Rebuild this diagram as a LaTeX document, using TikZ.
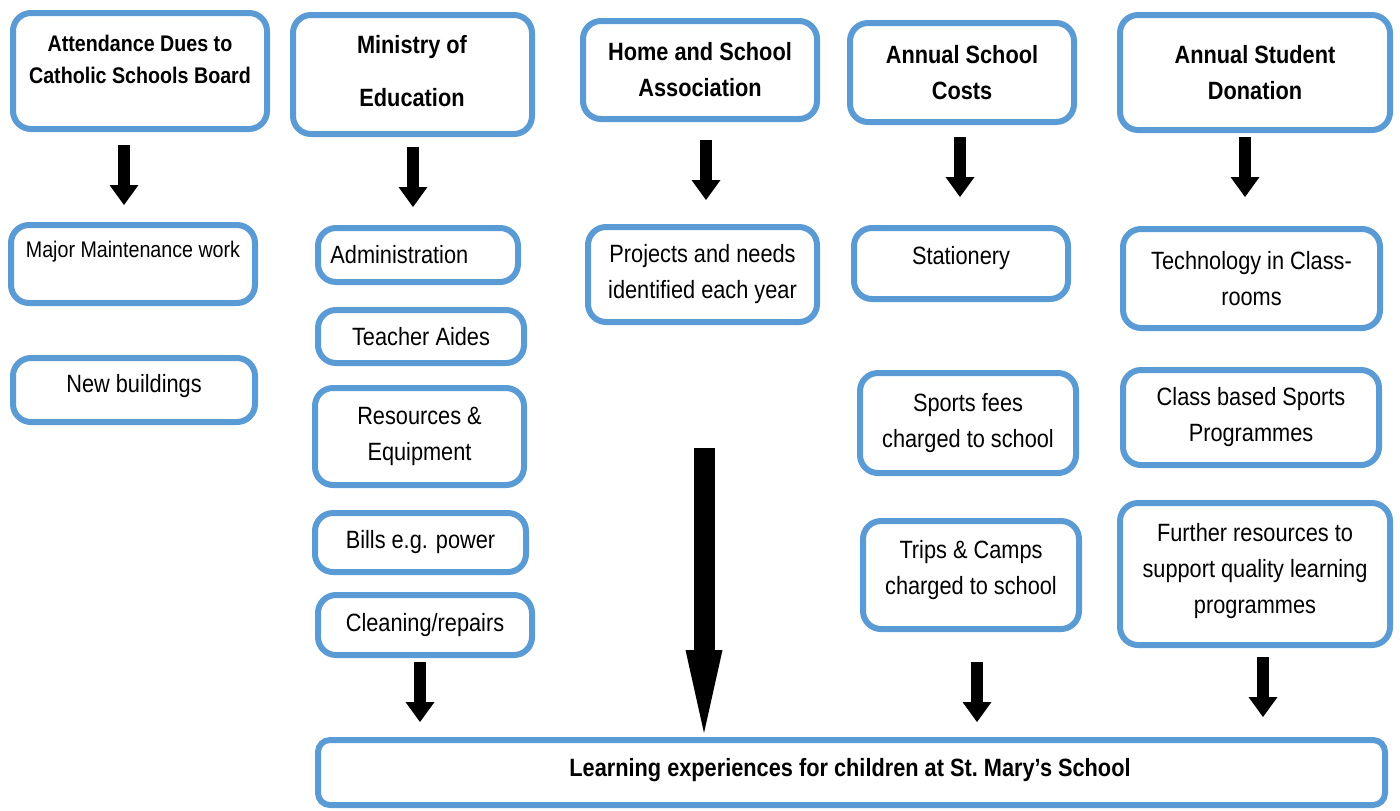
\documentclass[tikz,border=0pt]{standalone}
\usepackage{fontspec}
\setmainfont{Liberation Sans}[FakeStretch=0.87]
\usetikzlibrary{arrows.meta}
\definecolor{box-blue}{HTML}{5B9BD5}
\tikzset{
  box/.style={draw=box-blue, line width=3pt, rounded corners=9pt, fill=white,
    align=center, inner sep=0pt},
  sz/.style 2 args={minimum width=#1*0.5pt, minimum height=#2*0.5pt},
  txt/.style={align=center, inner sep=0pt, font=\fontsize{12.5}{18}\selectfont},
  head/.style={txt, font=\fontsize{12.5}{18}\selectfont\bfseries},
  shortarrow/.style={line width=6pt, -{Triangle[width=14.5pt, length=10pt, line width=0pt]}},
  bigarrow/.style={line width=10.5pt, -{Triangle[width=18.5pt, length=41.5pt, line width=0pt]}}
}
\begin{document}
\begin{tikzpicture}[x=0.5pt, y=-0.5pt]
  \useasboundingbox (0,0) rectangle (1400,810);
  % top row
  \node[box, sz={254}{116}] (att) at (140,71) {};
  \node[head, font=\fontsize{11.3}{16}\selectfont\bfseries] (att-t) at (140,59) {Attendance Dues to\\Catholic Schools Board};
  \node[box, sz={239}{119}] (moe) at (412.5,74.5) {};
  \node[head, font=\fontsize{12.5}{26.5}\selectfont\bfseries] (moe-t) at (412,71.5) {Ministry of\\Education};
  \node[box, sz={234}{98}, head] (hsa) at (700,70) {Home and School\\Association};
  \node[box, sz={224}{99}, head] (asc) at (962,72.5) {Annual School\\Costs};
  \node[box, sz={270}{115}, head] (asd) at (1255,72.5) {Annual Student\\Donation};
  % column 1
  \node[box, sz={244}{78}] (maj) at (133,264) {};
  \node[txt, font=\fontsize{11.3}{16}\selectfont] (maj-t) at (133,252) {Major Maintenance work};
  \node[box, sz={242}{64}] (nbl) at (134,390) {};
  \node[txt] (nbl-t) at (134,386) {New buildings};
  % column 2
  \node[box, sz={200}{54}] (adm) at (418,255) {};
  \node[txt, anchor=west] (adm-t) at (330,255) {Administration};
  \node[box, sz={206}{53}, txt] (tai) at (421,336.5) {Teacher Aides};
  \node[box, sz={209}{97}, txt] (res) at (419.5,436.5) {Resources \&\\Equipment};
  \node[box, sz={211}{59}, txt] (bil) at (420.5,542.5) {Bills e.g. power};
  \node[box, sz={214}{60}, txt] (cln) at (425,625) {Cleaning/repairs};
  % column 3
  \node[box, sz={229}{95}, txt] (prj) at (702.5,274.5) {Projects and needs\\identified each year};
  % column 4
  \node[box, sz={214}{71}] (sta) at (961,263.5) {};
  \node[txt] (sta-t) at (961,258) {Stationery};
  \node[box, sz={216}{100}, txt] (spf) at (968,423) {Sports fees\\charged to school};
  \node[box, sz={216}{108}] (trp) at (971,575) {};
  \node[txt] (trp-t) at (971,570) {Trips \& Camps\\charged to school};
  % column 5
  \node[box, sz={257}{99}, txt] (tec) at (1251.5,278.5) {Technology in Class-\\rooms};
  \node[box, sz={256}{95}, txt] (cls) at (1251,417.5) {Class based Sports\\Programmes};
  \node[box, sz={270}{142}] (fur) at (1255,574) {};
  \node[txt] (fur-t) at (1255,571.5) {Further resources to\\support quality learning\\programmes};
  % bottom
  \node[box, sz={1067}{65}, rounded corners=6pt] (lrn) at (851.5,772.5) {};
  \node[head] (lrn-t) at (850,770) {Learning experiences for children at St.\ Mary’s School};
  % arrows
  \coordinate (a1s) at (124,145); \coordinate (a1e) at (124,205);
  \coordinate (a2s) at (413,147); \coordinate (a2e) at (413,207);
  \coordinate (a3s) at (706,140); \coordinate (a3e) at (706,200);
  \coordinate (a4s) at (960,137); \coordinate (a4e) at (960,197);
  \coordinate (a5s) at (1245,137); \coordinate (a5e) at (1245,197);
  \coordinate (b2s) at (420,662); \coordinate (b2e) at (420,722);
  \coordinate (b4s) at (977,662); \coordinate (b4e) at (977,722);
  \coordinate (b5s) at (1263,657); \coordinate (b5e) at (1263,717);
  \coordinate (bigs) at (704,448); \coordinate (bige) at (704,733);
  \foreach \a in {a1,a2,a3,a4,a5,b2,b4,b5}
    \draw[shortarrow] (\a s) -- (\a e);
  \draw[bigarrow] (bigs) -- (bige);
\end{tikzpicture}
\end{document}
